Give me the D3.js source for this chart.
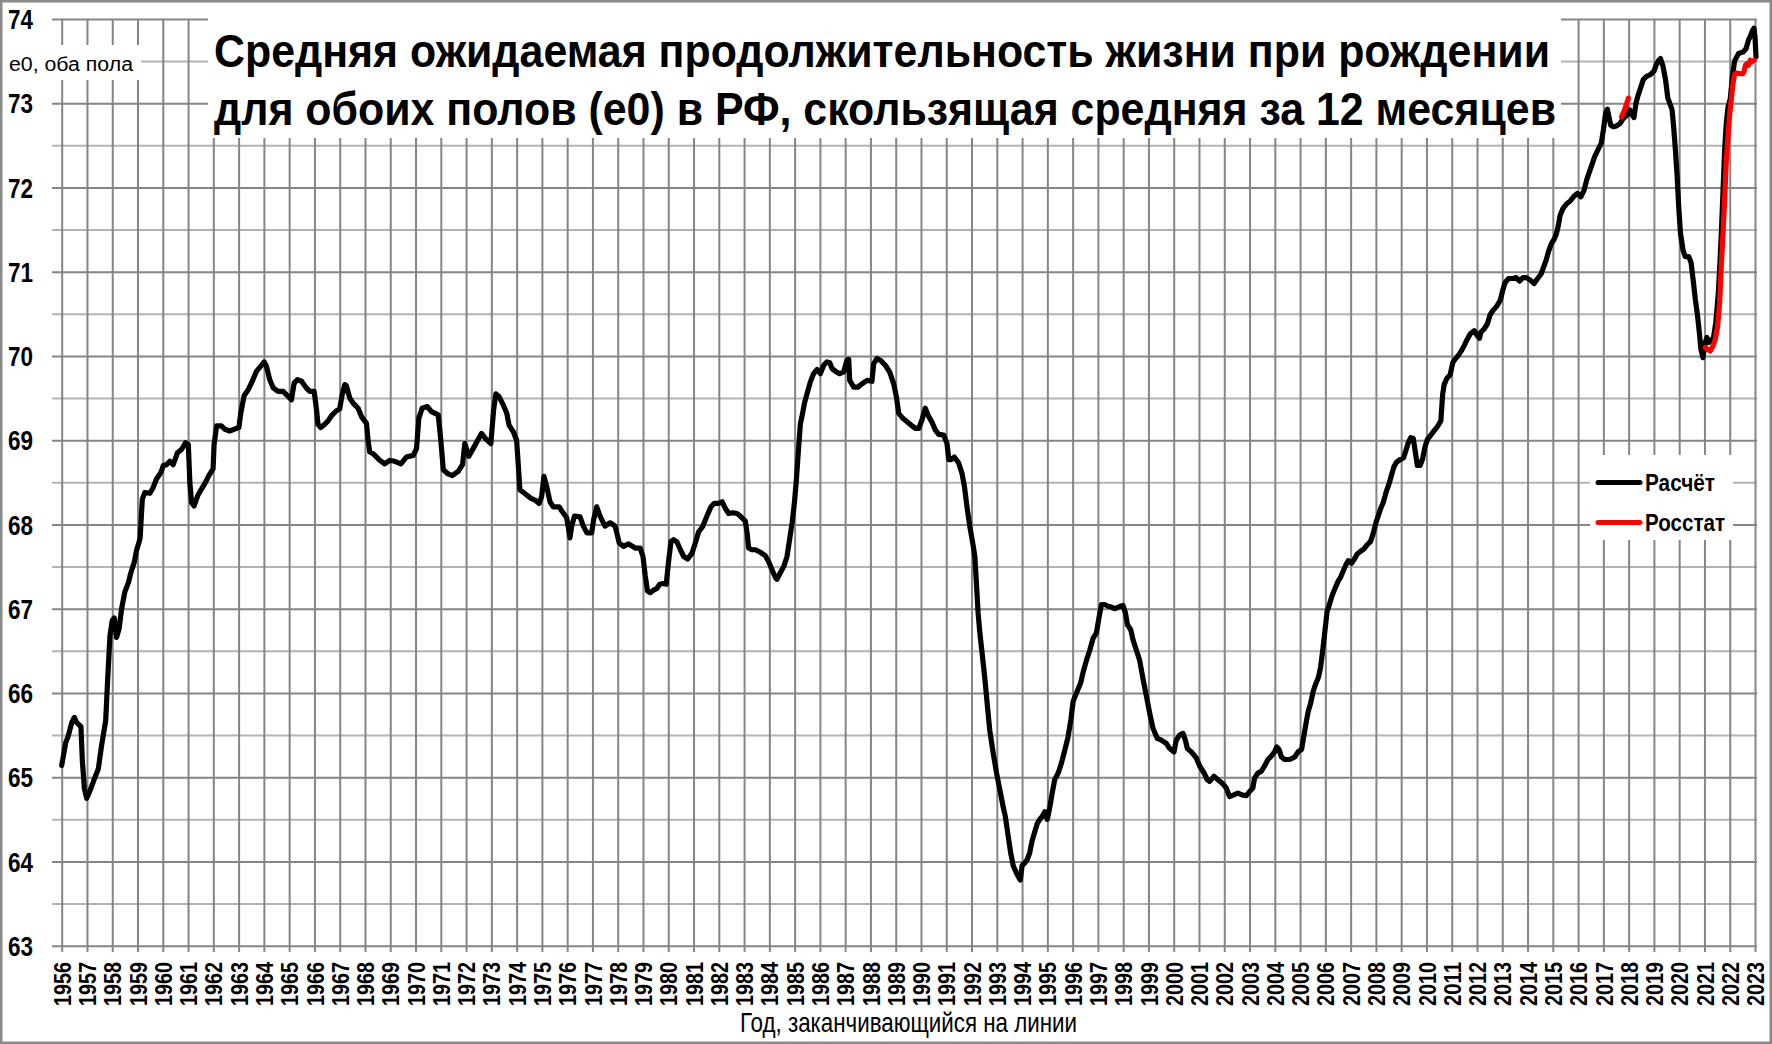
<!DOCTYPE html>
<html><head><meta charset="utf-8">
<script src="https://cdn.jsdelivr.net/npm/d3@7/dist/d3.min.js"></script>
<style>
html,body{margin:0;padding:0;background:#fff;}
svg{display:block;}
text{font-family:'Liberation Sans Narrow','Arial Narrow','Liberation Sans',Arial,sans-serif;}
</style></head>
<body>
<svg id="chart" width="1772" height="1044"></svg>
<script>
// ---------- DATA ----------
const titleLines = ["Средняя ожидаемая продолжительность жизни при рождении",
                    "для обоих полов (e0) в РФ, скользящая средняя за 12 месяцев"];
const yAxisLabel = "e0, оба пола";
const xAxisLabel = "Год, заканчивающийся на линии";
const yearTicks = d3.range(1956, 2024);        // 1956 … 2023
const valueTicks = d3.range(63, 75);           // 63 … 74
const seriesNames = ["Расчёт", "Росстат"];

// Расчёт: [год (десятичный), e0]
const calc1956_1967 = [[1956.00,65.14],[1956.16,65.41],[1956.26,65.49],[1956.40,65.65],[1956.50,65.71],[1956.59,65.65],[1956.76,65.60],[1956.82,65.18],[1956.90,64.86],[1956.99,64.75],[1957.12,64.84],[1957.32,65.00],[1957.45,65.10],[1957.58,65.38],[1957.74,65.67],[1957.82,66.17],[1957.91,66.68],[1958.00,66.86],[1958.08,66.89],[1958.17,66.66],[1958.27,66.76],[1958.37,67.00],[1958.50,67.20],[1958.64,67.31],[1958.74,67.43],[1958.87,67.55],[1958.96,67.69],[1959.10,67.83],[1959.19,68.30],[1959.29,68.38],[1959.49,68.37],[1959.62,68.44],[1959.75,68.54],[1959.93,68.62],[1960.02,68.70],[1960.15,68.71],[1960.28,68.75],[1960.41,68.71],[1960.58,68.85],[1960.74,68.89],[1960.90,68.97],[1961.01,68.95],[1961.07,68.50],[1961.14,68.26],[1961.24,68.22],[1961.38,68.34],[1961.53,68.42],[1961.69,68.50],[1961.82,68.58],[1961.99,68.66],[1962.03,68.95],[1962.13,69.17],[1962.32,69.17],[1962.46,69.13],[1962.65,69.11],[1962.92,69.14],[1963.01,69.15],[1963.09,69.33],[1963.22,69.53],[1963.38,69.60],[1963.51,69.68],[1963.71,69.82],[1963.88,69.88],[1964.01,69.93],[1964.10,69.88],[1964.23,69.72],[1964.37,69.62],[1964.56,69.58],[1964.76,69.58],[1964.93,69.53],[1965.09,69.48],[1965.20,69.68],[1965.33,69.72],[1965.49,69.70],[1965.68,69.62],[1965.82,69.58],[1965.99,69.58],[1966.08,69.37],[1966.14,69.19],[1966.25,69.15],[1966.41,69.19],[1966.54,69.23],[1966.67,69.29],[1966.87,69.35],[1967.00,69.37],[1967.09,69.53],[1967.20,69.66]];
const calc1967_1979 = [[1967.26,69.65],[1967.40,69.50],[1967.53,69.44],[1967.73,69.38],[1967.86,69.28],[1968.06,69.20],[1968.12,69.00],[1968.19,68.86],[1968.32,68.84],[1968.59,68.76],[1968.78,68.72],[1968.98,68.76],[1969.18,68.75],[1969.42,68.72],[1969.64,68.80],[1969.91,68.82],[1970.04,68.90],[1970.13,69.26],[1970.26,69.38],[1970.47,69.40],[1970.63,69.34],[1970.90,69.30],[1971.00,69.00],[1971.10,68.65],[1971.29,68.60],[1971.45,68.58],[1971.69,68.63],[1971.86,68.71],[1971.95,68.96],[1972.11,68.81],[1972.28,68.90],[1972.46,69.00],[1972.61,69.08],[1972.77,69.02],[1972.98,68.96],[1973.09,69.36],[1973.18,69.55],[1973.30,69.52],[1973.47,69.42],[1973.61,69.32],[1973.70,69.18],[1973.87,69.10],[1974.00,69.00],[1974.07,68.69],[1974.13,68.41],[1974.27,68.38],[1974.57,68.31],[1974.73,68.29],[1974.89,68.25],[1974.99,68.33],[1975.08,68.57],[1975.19,68.45],[1975.32,68.27],[1975.45,68.21],[1975.68,68.21],[1975.81,68.15],[1975.98,68.08],[1976.05,67.96],[1976.11,67.84],[1976.18,67.98],[1976.29,68.10],[1976.51,68.09],[1976.64,67.98],[1976.78,67.90],[1976.97,67.90],[1977.05,68.06],[1977.17,68.21],[1977.30,68.10],[1977.50,67.98],[1977.70,68.02],[1977.90,67.98],[1978.06,67.78],[1978.23,67.74],[1978.43,67.77],[1978.69,67.72],[1978.89,67.72]];
const calc1979_1992 = [[1979.00,67.62],[1979.09,67.39],[1979.18,67.21],[1979.29,67.19],[1979.42,67.22],[1979.55,67.24],[1979.66,67.29],[1979.79,67.30],[1979.92,67.29],[1980.02,67.58],[1980.11,67.80],[1980.21,67.82],[1980.35,67.79],[1980.48,67.70],[1980.61,67.62],[1980.77,67.59],[1980.94,67.66],[1981.07,67.78],[1981.20,67.91],[1981.37,67.98],[1981.53,68.10],[1981.69,68.21],[1981.82,68.25],[1981.99,68.25],[1982.13,68.27],[1982.26,68.19],[1982.39,68.13],[1982.56,68.14],[1982.72,68.13],[1982.85,68.10],[1983.05,68.04],[1983.12,67.90],[1983.18,67.72],[1983.31,67.70],[1983.45,67.70],[1983.64,67.67],[1983.84,67.63],[1983.97,67.56],[1984.11,67.46],[1984.24,67.37],[1984.30,67.35],[1984.44,67.43],[1984.57,67.50],[1984.70,67.62],[1984.80,67.82],[1984.90,68.02],[1984.99,68.25],[1985.07,68.53],[1985.15,68.88],[1985.23,69.20],[1985.29,69.28],[1985.39,69.44],[1985.49,69.55],[1985.62,69.69],[1985.75,69.79],[1985.89,69.84],[1986.02,69.79],[1986.15,69.89],[1986.28,69.93],[1986.39,69.92],[1986.48,69.85],[1986.61,69.82],[1986.78,69.79],[1986.94,69.81],[1987.07,69.95],[1987.14,69.96],[1987.18,69.71],[1987.34,69.63],[1987.50,69.63],[1987.67,69.67],[1987.87,69.71],[1988.06,69.70],[1988.13,69.91],[1988.26,69.97],[1988.39,69.95],[1988.59,69.89],[1988.76,69.81],[1988.92,69.67],[1989.03,69.51],[1989.12,69.32],[1989.25,69.27],[1989.45,69.22],[1989.65,69.17],[1989.78,69.14],[1989.91,69.14],[1990.04,69.24],[1990.17,69.38],[1990.31,69.28],[1990.44,69.21],[1990.57,69.12],[1990.70,69.07],[1990.90,69.06],[1991.03,68.96],[1991.10,68.77],[1991.19,68.77],[1991.32,68.80],[1991.49,68.73],[1991.62,68.61],[1991.72,68.45],[1991.82,68.21],[1991.93,67.98]];
const calc1992_2004 = [[1992.07,67.74],[1992.13,67.62],[1992.20,67.27],[1992.26,66.95],[1992.33,66.71],[1992.42,66.47],[1992.53,66.16],[1992.63,65.84],[1992.72,65.56],[1992.86,65.28],[1992.99,65.05],[1993.12,64.85],[1993.25,64.65],[1993.34,64.53],[1993.45,64.30],[1993.55,64.10],[1993.65,63.95],[1993.75,63.88],[1993.85,63.82],[1993.93,63.78],[1994.00,63.95],[1994.10,63.98],[1994.20,64.02],[1994.30,64.10],[1994.40,64.25],[1994.50,64.35],[1994.60,64.45],[1994.70,64.50],[1994.79,64.53],[1994.90,64.59],[1995.00,64.50],[1995.10,64.65],[1995.19,64.81],[1995.29,64.97],[1995.43,65.05],[1995.56,65.17],[1995.69,65.32],[1995.82,65.48],[1995.93,65.68],[1996.02,65.90],[1996.15,66.00],[1996.32,66.12],[1996.41,66.24],[1996.55,66.39],[1996.68,66.51],[1996.81,66.65],[1996.94,66.71],[1997.03,66.87],[1997.14,67.05],[1997.27,67.05],[1997.40,67.03],[1997.53,67.02],[1997.67,67.00],[1997.82,67.02],[1997.99,67.04],[1998.09,66.95],[1998.17,66.81],[1998.30,66.75],[1998.39,66.63],[1998.52,66.51],[1998.65,66.39],[1998.79,66.16],[1998.92,65.96],[1999.05,65.76],[1999.18,65.58],[1999.35,65.46],[1999.51,65.44],[1999.71,65.40],[1999.84,65.34],[2000.01,65.30],[2000.10,65.44],[2000.23,65.50],[2000.37,65.52],[2000.46,65.44],[2000.54,65.34],[2000.70,65.30],[2000.89,65.23],[2001.03,65.13],[2001.20,65.05],[2001.33,64.97],[2001.42,64.95],[2001.59,65.01],[2001.75,64.97],[2001.95,64.92],[2002.08,64.87],[2002.21,64.77],[2002.38,64.79],[2002.54,64.81],[2002.70,64.79],[2002.87,64.78],[2003.00,64.83],[2003.13,64.87],[2003.20,64.99],[2003.33,65.05],[2003.46,65.07],[2003.59,65.13],[2003.73,65.21],[2003.86,65.25],[2003.99,65.30],[2004.08,65.36]];
const calc2004_2016 = [[2004.17,65.33],[2004.26,65.24],[2004.40,65.21],[2004.59,65.21],[2004.79,65.24],[2004.92,65.30],[2005.06,65.33],[2005.12,65.44],[2005.23,65.63],[2005.32,65.78],[2005.41,65.87],[2005.52,66.02],[2005.62,66.11],[2005.72,66.18],[2005.81,66.30],[2005.89,66.49],[2005.98,66.73],[2006.07,66.97],[2006.15,67.04],[2006.25,67.14],[2006.34,67.21],[2006.44,67.28],[2006.51,67.33],[2006.60,67.37],[2006.71,67.45],[2006.81,67.52],[2006.91,67.57],[2007.04,67.54],[2007.17,67.60],[2007.26,67.65],[2007.39,67.68],[2007.53,67.71],[2007.66,67.76],[2007.79,67.80],[2007.90,67.90],[2008.00,68.02],[2008.10,68.11],[2008.19,68.19],[2008.29,68.26],[2008.40,68.38],[2008.53,68.49],[2008.62,68.59],[2008.72,68.69],[2008.82,68.74],[2008.95,68.77],[2009.09,68.79],[2009.19,68.88],[2009.28,68.97],[2009.38,69.03],[2009.48,69.02],[2009.55,68.88],[2009.64,68.70],[2009.75,68.70],[2009.85,68.78],[2009.94,68.92],[2010.04,69.01],[2010.17,69.06],[2010.30,69.11],[2010.43,69.16],[2010.57,69.23],[2010.64,69.54],[2010.70,69.66],[2010.80,69.73],[2010.94,69.78],[2011.04,69.92],[2011.13,69.96],[2011.27,70.01],[2011.40,70.07],[2011.49,70.12],[2011.60,70.19],[2011.73,70.26],[2011.89,70.30],[2011.99,70.25],[2012.10,70.21],[2012.15,70.28],[2012.28,70.32],[2012.41,70.38],[2012.52,70.49],[2012.63,70.54],[2012.78,70.59],[2012.92,70.66],[2013.02,70.78],[2013.11,70.87],[2013.25,70.92],[2013.42,70.92],[2013.55,70.93],[2013.68,70.89],[2013.82,70.93],[2013.95,70.93],[2014.11,70.90],[2014.26,70.86],[2014.40,70.92],[2014.53,70.97],[2014.63,71.05],[2014.74,71.14],[2014.83,71.24],[2014.94,71.33],[2015.06,71.39],[2015.14,71.45],[2015.22,71.55],[2015.29,71.67],[2015.40,71.75],[2015.56,71.81],[2015.69,71.84],[2015.85,71.90]];
const calc2016_2023 = [[2015.97,71.93],[2016.11,71.89],[2016.24,71.97],[2016.34,72.09],[2016.43,72.17],[2016.57,72.29],[2016.66,72.37],[2016.79,72.45],[2016.92,72.53],[2017.00,72.68],[2017.09,72.88],[2017.16,72.93],[2017.22,72.84],[2017.29,72.74],[2017.39,72.72],[2017.52,72.73],[2017.66,72.76],[2017.79,72.82],[2017.94,72.86],[2018.05,72.92],[2018.14,72.86],[2018.21,72.83],[2018.29,73.00],[2018.37,73.09],[2018.47,73.18],[2018.58,73.28],[2018.71,73.32],[2018.86,73.34],[2019.00,73.38],[2019.10,73.46],[2019.19,73.51],[2019.26,73.53],[2019.36,73.44],[2019.46,73.28],[2019.55,73.06],[2019.65,72.98],[2019.72,72.92],[2019.78,72.72],[2019.85,72.45],[2019.92,72.13],[2019.98,71.78],[2020.05,71.46],[2020.15,71.26],[2020.24,71.18],[2020.38,71.18],[2020.47,71.11],[2020.55,70.91],[2020.64,70.67],[2020.73,70.47],[2020.81,70.24],[2020.86,70.08],[2020.94,69.98],[2021.03,70.16],[2021.10,70.22],[2021.16,70.16],[2021.26,70.18],[2021.36,70.22],[2021.45,70.40],[2021.55,70.75],[2021.62,71.15],[2021.68,71.55],[2021.74,72.00],[2021.80,72.45],[2021.86,72.75],[2021.93,72.95],[2022.02,73.05],[2022.10,73.30],[2022.19,73.50],[2022.35,73.59],[2022.54,73.61],[2022.65,73.65],[2022.74,73.75],[2022.81,73.79],[2022.91,73.87],[2022.96,73.89],[2023.00,73.79],[2023.04,73.55]];

// Росстат
const rosstat2018 = [[2017.72,72.84],[2017.85,72.93],[2017.99,73.06]];
const rosstat2021 = [[2021.03,70.10],[2021.12,70.08],[2021.23,70.06],[2021.34,70.12],[2021.43,70.20],[2021.52,70.35],[2021.60,70.63],[2021.66,71.03],[2021.73,71.42],[2021.80,71.86],[2021.86,72.29],[2021.93,72.61],[2021.99,72.84],[2022.06,73.04],[2022.12,73.22],[2022.19,73.34],[2022.28,73.36],[2022.41,73.35],[2022.52,73.35],[2022.57,73.38],[2022.62,73.45],[2022.68,73.47],[2022.74,73.45],[2022.81,73.51],[2022.87,73.49],[2022.96,73.51]];

const calcSeries = [].concat(calc1956_1967, calc1967_1979, calc1979_1992, calc1992_2004, calc2004_2016, calc2016_2023);
const rosstatSegments = [rosstat2018, rosstat2021];

// ---------- LAYOUT ----------
const W = 1772, H = 1044;
const plot = {left: 61.7, right: 1755, top: 19, bottom: 945.7};
const svg = d3.select("#chart");
svg.append("rect").attr("width", W).attr("height", H).attr("fill", "#fff");

const x = d3.scaleLinear().domain([1956, 2023]).range([plot.left, plot.right]);
const y = d3.scaleLinear().domain([63, 74]).range([plot.bottom, plot.top]);

const gridDark = "#858585", gridLight = "#b3b3b3";

// horizontal grid (every 0.5)
const halfTicks = d3.range(63, 74.001, 0.5);
const gy = svg.append("g").attr("transform", "translate(52,0)")
  .call(d3.axisLeft(y).tickValues(halfTicks).tickSize(-(plot.right + 2 - 52)).tickFormat(""));
gy.select(".domain").remove();
gy.selectAll(".tick line")
  .attr("stroke", d => (Math.abs(d - Math.round(d)) < 1e-6 ? gridDark : gridLight))
  .attr("stroke-width", 2);

// vertical grid (every year) with tick labels
const gx = svg.append("g").attr("transform", "translate(0,952)")
  .call(d3.axisBottom(x).tickValues(yearTicks).tickSize(-(952 - plot.top)).tickFormat(d3.format("d")));
gx.select(".domain").remove();
gx.selectAll(".tick line").attr("stroke", gridDark).attr("stroke-width", 2);
gx.selectAll(".tick text")
  .attr("transform", "rotate(-90)")
  .attr("x", -10).attr("y", 0).attr("dy", "0.36em")
  .attr("text-anchor", "end")
  .attr("fill", "#000")
  .style("font-size", "24px").style("font-weight", "bold")
  .attr("textLength", 44).attr("lengthAdjust", "spacingAndGlyphs");

// y tick labels
const gyl = svg.append("g").attr("transform", "translate(52,0)")
  .call(d3.axisLeft(y).tickValues(valueTicks).tickSize(0).tickPadding(19).tickFormat(d3.format("d")));
gyl.select(".domain").remove();
gyl.selectAll(".tick text")
  .attr("fill", "#000").attr("dy", "0.36em")
  .style("font-size", "27px").style("font-weight", "bold")
  .attr("textLength", 25).attr("lengthAdjust", "spacingAndGlyphs");

// white boxes behind text
svg.append("rect").attr("x", 208).attr("y", 10).attr("width", 1353).attr("height", 128).attr("fill", "#fff");
svg.append("rect").attr("x", 2).attr("y", 45).attr("width", 139).attr("height", 35).attr("fill", "#fff");
svg.append("rect").attr("x", 1590).attr("y", 455).attr("width", 143).attr("height", 85).attr("fill", "#fff");

// title
const titleY = [67, 125], titleLen = [1336, 1342];
svg.selectAll("text.title").data(titleLines).join("text").attr("class", "title")
  .attr("x", 214).attr("y", (d, i) => titleY[i])
  .attr("textLength", (d, i) => titleLen[i]).attr("lengthAdjust", "spacingAndGlyphs")
  .style("font-size", "47px").style("font-weight", "bold").attr("fill", "#000")
  .text(d => d);

// axis labels
svg.append("text").attr("x", 9).attr("y", 71).text(yAxisLabel)
  .style("font-size", "20px").attr("fill", "#000")
  .attr("textLength", 124).attr("lengthAdjust", "spacingAndGlyphs");
svg.append("text").attr("x", 740).attr("y", 1032).text(xAxisLabel)
  .style("font-size", "28px").attr("fill", "#000")
  .attr("textLength", 337).attr("lengthAdjust", "spacingAndGlyphs");

// lines
const line = d3.line().x(d => x(d[0])).y(d => y(d[1]));
svg.append("path").datum(calcSeries).attr("d", line)
  .attr("fill", "none").attr("stroke", "#000").attr("stroke-width", 5.2)
  .attr("stroke-linejoin", "round").attr("stroke-linecap", "round");
svg.selectAll("path.ros").data(rosstatSegments).join("path").attr("class", "ros")
  .attr("d", line).attr("fill", "none").attr("stroke", "#ff0000").attr("stroke-width", 5.2)
  .attr("stroke-linejoin", "round").attr("stroke-linecap", "round");

// legend
const legendColors = ["#000", "#ff0000"];
const lg = svg.append("g").selectAll("g").data(seriesNames).join("g")
  .attr("transform", (d, i) => `translate(1598,${482.5 + i * 40})`);
lg.append("line").attr("x1", 0).attr("x2", 42).attr("y1", 0).attr("y2", 0)
  .attr("stroke", (d, i) => legendColors[i]).attr("stroke-width", 5).attr("stroke-linecap", "round");
lg.append("text").attr("x", 47).attr("y", 8.5).text(d => d)
  .style("font-size", "23px").style("font-weight", "bold").attr("fill", "#000")
  .attr("textLength", (d, i) => (i === 0 ? 70 : 80)).attr("lengthAdjust", "spacingAndGlyphs");

// outer frame
svg.append("rect").attr("x", 1.25).attr("y", 1.25).attr("width", W - 2.5).attr("height", H - 2.5)
  .attr("fill", "none").attr("stroke", "#8a8a8a").attr("stroke-width", 2.5);
</script>
</body></html>
